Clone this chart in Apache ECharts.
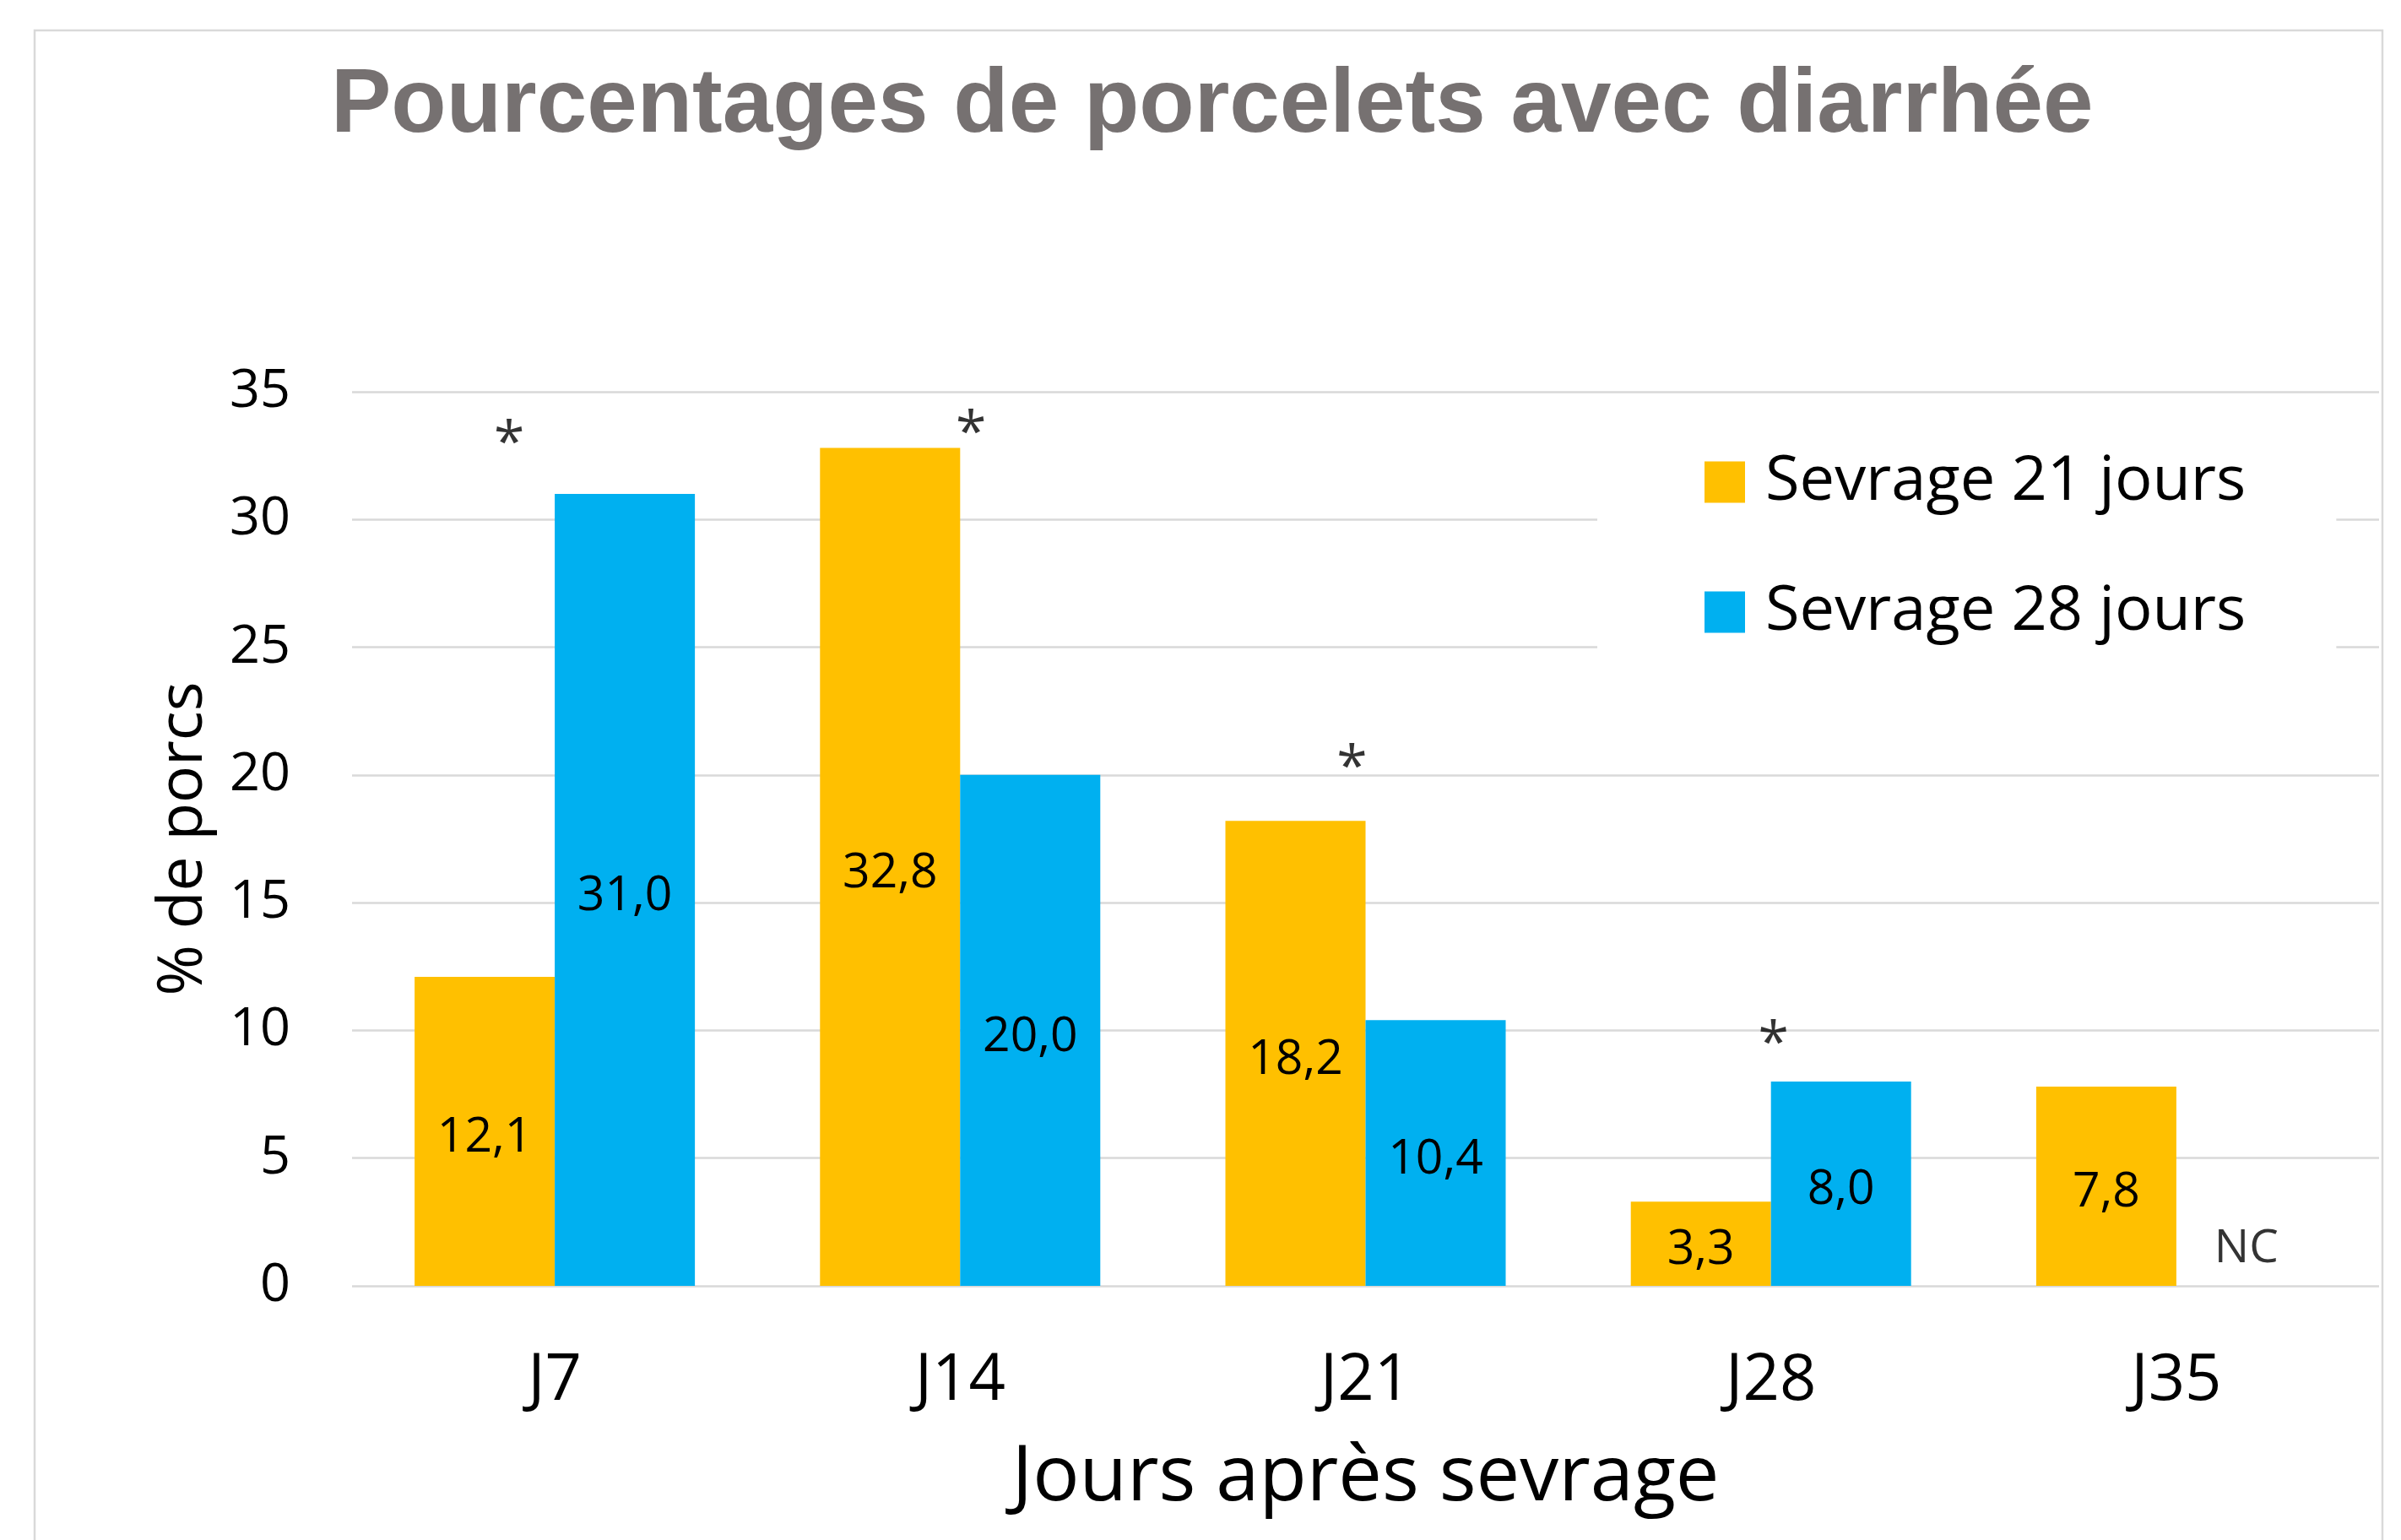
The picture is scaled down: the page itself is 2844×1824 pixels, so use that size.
<!DOCTYPE html>
<html>
<head>
<meta charset="utf-8">
<title>Pourcentages de porcelets avec diarrhée</title>
<script src="https://cdn.jsdelivr.net/npm/echarts@6/dist/echarts.min.js"></script>
<style>
  html, body { margin: 0; padding: 0; background: #fff; }
  #chart { width: 2844px; height: 1824px; }
</style>
</head>
<body>
<div id="chart"></div>
<script>
// données
var jours = ['J7', 'J14', 'J21', 'J28', 'J35'];
var sevrage21 = [12.1, 32.8, 18.2, 3.3, 7.8];
var sevrage28 = [31.0, 20.0, 10.4, 8.0, null];   // J35 : NC
var yTicks = [0, 5, 10, 15, 20, 25, 30, 35];

// astérisques (différence significative) : catégorie et hauteur
var starCats = ['J7', 'J14', 'J21', 'J28'];
var starLevels = [33.4, 33.8, 20.7, 9.9];
var ncCats = ['J35'];

// mise en page
var font = '"Open Sans", "Noto Sans", sans-serif';
var barWidth = 166;
var starShift = [-54, 13, -16, 3];

var chart = echarts.init(document.getElementById('chart'));

function virgule(v) {
  return v.toFixed(1).replace('.', ',');
}

var option = {
  backgroundColor: '#fff',
  animation: false,
  graphic: [{
    type: 'rect',
    shape: { x: 41, y: 36, width: 2781, height: 1900 },
    style: { fill: 'none', stroke: '#D9D9D9', lineWidth: 2.5 },
    silent: true
  }],
  title: {
    text: 'Pourcentages de porcelets avec diarrhée',
    left: 392,
    top: 73,
    padding: 0,
    textStyle: {
      fontFamily: '"Liberation Sans", Arial, sans-serif',
      fontWeight: 'bold',
      fontSize: 107,
      lineHeight: 107,
      color: '#767171'
    }
  },
  legend: {
    data: ['Sevrage 21 jours', 'Sevrage 28 jours'],
    orient: 'vertical',
    left: 1892,
    top: 496,
    padding: [35, 107, 40, 127],
    backgroundColor: '#fff',
    icon: 'rect',
    itemWidth: 48,
    itemHeight: 49,
    itemGap: 74,
    textStyle: {
      fontFamily: font,
      fontSize: 74,
      lineHeight: 80,
      color: '#000',
      padding: [0, 0, 0, 19]
    }
  },
  grid: {
    left: 417,
    right: 26,
    top: 464,
    bottom: 301
  },
  xAxis: {
    type: 'category',
    data: jours,
    name: 'Jours après sevrage',
    nameLocation: 'middle',
    nameGap: 182,
    nameTextStyle: { fontFamily: font, fontSize: 92, lineHeight: 92, color: '#000' },
    axisLine: { show: false },
    axisTick: { show: false },
    axisLabel: { fontFamily: font, fontSize: 76, lineHeight: 76, color: '#000', margin: 75 }
  },
  yAxis: {
    type: 'value',
    min: yTicks[0],
    max: yTicks[yTicks.length - 1],
    interval: yTicks[1] - yTicks[0],
    name: '% de porcs',
    nameLocation: 'middle',
    nameRotate: 90,
    nameGap: 162,
    nameTextStyle: { fontFamily: font, fontSize: 73, lineHeight: 73, color: '#000' },
    axisLine: { show: false },
    axisTick: { show: false },
    axisLabel: { fontFamily: font, fontSize: 63, color: '#000', margin: 73 },
    splitLine: { lineStyle: { color: '#D9D9D9', width: 2.5 } }
  },
  series: [
    {
      name: 'Sevrage 21 jours',
      type: 'bar',
      data: sevrage21,
      barWidth: barWidth,
      barGap: '0%',
      itemStyle: { color: '#FFC000' },
      label: {
        show: true,
        position: 'inside',
        offset: [0, 8],
        fontFamily: font,
        fontSize: 57,
        color: '#000',
        formatter: function (p) { return virgule(p.value); }
      }
    },
    {
      name: 'Sevrage 28 jours',
      type: 'bar',
      data: sevrage28,
      barWidth: barWidth,
      barGap: '0%',
      itemStyle: { color: '#00B0F0' },
      label: {
        show: true,
        position: 'inside',
        offset: [0, 8],
        fontFamily: font,
        fontSize: 57,
        color: '#000',
        formatter: function (p) { return virgule(p.value); }
      }
    },
    {
      name: 'etoiles',
      type: 'scatter',
      symbolSize: 1,
      itemStyle: { color: 'rgba(0,0,0,0)' },
      silent: true,
      data: starCats.map(function (c, i) {
        return {
          value: [c, starLevels[i]],
          label: { offset: [starShift[i], 15] }
        };
      }),
      label: {
        show: true,
        position: 'inside',
        fontFamily: font,
        fontSize: 66,
        color: '#000',
        formatter: '*'
      }
    },
    {
      name: 'nc',
      type: 'scatter',
      symbolSize: 1,
      itemStyle: { color: 'rgba(0,0,0,0)' },
      silent: true,
      data: ncCats.map(function (c) { return [c, 0]; }),
      label: {
        show: true,
        position: 'inside',
        offset: [barWidth / 2, -44],
        fontFamily: font,
        fontSize: 55,
        color: '#000',
        formatter: 'NC'
      }
    }
  ]
};

chart.setOption(option);
</script>
</body>
</html>
